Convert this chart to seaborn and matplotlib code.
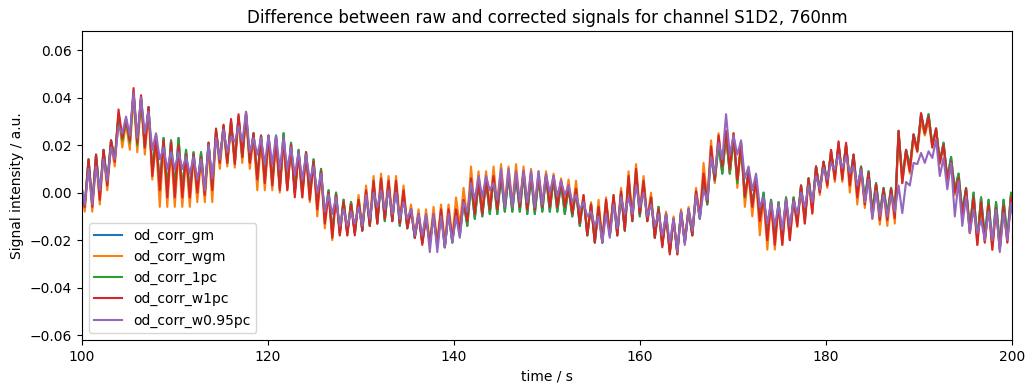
import numpy as np
import matplotlib
matplotlib.use("Agg")
import matplotlib.pyplot as plt
import seaborn as sns

# peak / trough values, in 1e-3 a.u.
# (alternating peak, trough, one cardiac cycle per pair, 100 s -> 200 s)
od_corr_w095pc = [
    4, -5,
    10, -5, 11, 1, 14, 5, 19, 14, 28, 25, 32, 24, 42, 23, 40, 25, 34, 18, 25, 14, 19, 10, 17, 10, 17, 10, 15, 8, 15, 5.5,
    14, 1, 20, 6, 23, 14, 26.5, 17, 23.5, 21.5, 28, 21.5, 34, 17, 23, 16, 23, 12, 24, 12, 24, 10, 23, 10, 19, 7.5, 17, 5.5, 16, 5.5,
    11, 0, 8, -8, -1, -9, -2, -14, -7, -14, -8, -13, -6, -14, -1, -11, 0, -6, 1, -7, 1, -9, 0, -11, -4, -11, -7, -18, -9, -18,
    -9, -25, -9, -25, -10, -23, -9, -21, -10, -19, -4, -8, 4, -3, 7, -2, 7, 1, 4, -3, 10, -6, 10, -6, 9, -4, 9, -4, 9, -6, 9, -5,
    7.6, 0, 7, -1.5, 5, -1, 3, -4, -1, -7, -4, -10, -8, -14, -10, -21, -9, -19, -5, -15, -2, -9, -2, -9, 3, -6, 0, -10, -5, -14, -9, -18,
    -9, -21, -11, -25, -8, -22, -7, -16, -1, -11, 1, -3, 15, 8, 21, 14, 33, 16, 24, 16, 22, 6, 11, 1, 8, -6, -2, -13, -4, -14,
    -5, -15.6, -3, -14, -3.6, -9, 0, -6, 3, -4, 7, 1.4, 10.4, 5.5, 12.5, 9.7, 16, 10.4, 15.3, 8.3, 11, 3, 9.7, -4, 5.5, -11, 0.6, -10, -1, -10, -1, -8,
    3, -8.6, 4.5, 3, 12.5, 12, 16.7, 12.5, 17.4, 14.6, 22.3, 7, 14.6, 1.4, 12.5, -10, 4.8, -14, -1.6, -17, -7.2, -17, -11.4, -20, -8, -20, -7.2, -25, -8.6, -20, -4.4, -15,
]

od_corr_w1pc = [
    2, -6,
    14, -6, 16, -3, 18, 3, 22, 13, 35, 23, 31, 22, 44, 21, 41, 19, 36, 7, 23, 1, 22, -2, 21, -2, 20, -2, 16, -2, 16, 0,
    15, -1, 21, 1, 27, 12.5, 28.6, 12.5, 31, 12, 33, 15, 34, 12.5, 25, 5.5, 24, 4, 24, 3, 23, 1, 23, 1, 20, -2, 17, -2, 17, -3,
    13, -7, 9, -13, 0, -19, -1, -18, -4, -18, -5, -18, -3, -16, 1, -14, 5, -13, 6, -11, 5, -12, 5, -13, 1, -15, -7, -19, -9, -22,
    -10, -22, -9, -22, -7, -23, -7, -20, -7, -16, -3, -12, 6, -9, 5, -9, 6, -7, 7, -7, 8, -6, 8, -6, 8, -6, 9, -7, 8, -7, 7, -6,
    7.6, -6, 7, -6, 5, -6, 3, -9, 1.6, -13, -1, -18, -5, -21, -6, -21, -3, -18, -1, -18, 0.5, -16, 7, -12, 10, -9, 5, -12, -2, -19, -7, -23,
    -9, -26, -11, -26, -8, -21, -7, -18, 0.6, -10, 8, -4, 19.5, 5.5, 24, 11, 26, 10, 25, 5.5, 21, -1.6, 8, -6, 5.5, -12, -2, -20, -4, -22,
    -5, -22, -3, -20, -3, -14, 3, -13, 6, -8.6, 11, 0, 13, 3, 18, 5.5, 21.6, 5.5, 21, 3, 16, -2, 10.4, -5, 8.3, -10, 3.4, -11.5, 1.4, -11.5, 1.5, -10.7,
    26, 4, 18, 9, 24.5, 17.4, 33.5, 25, 32, 19, 27, 12.5, 20, 5.5, 13, 0, 6.2, -10, 1.5, -17, -2, -22, -4, -21, -5, -24, -6.5, -24, -5.5, -21, -2, -16,
]

od_corr_wgm = [
    1, -8,
    12, -8, 14, -5, 16, 1, 20, 11, 32, 19, 29, 18, 40, 17, 38, 16, 33, 5.5, 21, -6, 20, -6, 19, -6, 18, -6, 15, -6, 15, -4,
    14, -4, 19, -4, 25, 10, 27, 11, 29, 10.5, 31, 12.5, 32, 10, 23, 1, 22, 1, 22, 1, 21, 0, 21, 1, 19, 0, 16, -2, 16, -4,
    13, -10, 9, -15, 0, -20, -1, -18, -3, -18, -4, -17, -1, -15, 3, -13, 7, -12, 8, -10, 7, -11, 7, -12, 3, -14, -5, -18, -7, -21,
    -7, -21, -6, -21, -5, -21, -5, -19, -2, -14, 2, -11, 11, -8, 9, -8, 9, -6, 11, -6, 12, -5, 11, -5, 12, -5, 11, -6, 10, -6, 9, -5,
    9, -5, 8, -5, 6, -5, 5.5, -8, 5, -12, -1, -17, -4, -20, -3, -20, -2, -17, -1, -17, 2, -15, 9, -11, 12, -8, 7, -11, 0, -18, -6, -22,
    -8, -25, -10, -26, -7, -21, -6, -17, 2, -10, 12.5, -3, 22, 4, 25, 9, 25, 8, 25, 2, 21, -6, 8, -10, 6, -18, -2, -24, -4, -24,
    -5, -22, -3, -20, -3, -14.5, 3, -13, 6, -9, 11, -1, 13, 2, 18, 4.5, 21, 4.5, 20, 0, 15, -5, 10, -6.5, 8, -11, 3, -13.5, 1, -14, 1, -13,
    25, 4, 17, 8, 23, 17, 30, 24, 30, 19, 26, 12, 20, 5, 13, -1, 6, -10, 1, -17, -2, -22, -4, -21, -5, -24, -6.5, -24, -5.5, -21, -1, -16,
]

od_corr_1pc = [
    3, -5,
    14, -5, 16, -1, 18, 4, 22, 14, 33, 22, 30, 21, 42, 20, 40, 19, 36, 9, 24, 3, 23, 1, 22, 1, 23, 1, 18, 0, 17, 1,
    17, 0, 21, 2, 26, 13, 28, 13, 30, 13, 32, 15, 33, 13, 25, 6, 24, 5, 24, 4, 24, 2, 25, 2, 21, 0, 18, 0, 17, -1,
    14, -5, 10, -11, 1, -17, 0, -17, -3, -17, -4, -17, -3, -16, 0, -14, 4, -13, 5, -12, 4, -12, 4, -14, 0, -15, -7, -19, -9, -21,
    -10, -21, -10, -22, -8, -23, -8, -21, -8, -18, -4, -14, 4, -11, 4, -10, 5, -9, 6, -9, 7, -8, 7, -8, 7, -8, 8, -9, 7, -9, 6, -8,
    7, -8, 6, -8, 4, -9, 2, -10, 1, -14, -2, -18, -5, -21, -6, -21, -4, -18, -2, -18, 0, -16, 6, -12, 9, -10, 4, -12, -2, -19, -6, -22,
    -9, -25, -11, -25, -8, -21, -7, -18, 0, -11, 5, -5, 16, 5, 20, 8, 24, 8, 23, 4, 20, -2, 9, -5, 6, -10, 0, -17, -3, -19,
    -4, -19, -2, -17, -2, -12, 3, -11, 6, -6, 11, 1, 13, 4, 17, 7, 20, 7, 20, 5, 16, 0, 11, -3, 9, -8, 4, -9, 2, -9, 2, -9,
    26, 6, 18, 11, 24.5, 18, 33, 25, 33, 20, 27, 13, 21, 6, 15, 1, 8, -8, 2, -15, 0, -20, -2, -19, -3, -22, -4, -22, -3, -19, 0, -14,
]

# global-mean correction is hidden under the 1pc trace in the chart
od_corr_gm = list(od_corr_1pc)

series_names = ["od_corr_gm", "od_corr_wgm", "od_corr_1pc", "od_corr_w1pc", "od_corr_w0.95pc"]
series_vals = [od_corr_gm, od_corr_wgm, od_corr_1pc, od_corr_w1pc, od_corr_w095pc]

fig = plt.figure(figsize=(10.35, 3.91), dpi=100)
ax = fig.add_axes([0.0792, 0.1304, 0.8986, 0.7903])

for name, vals in zip(series_names, series_vals):
    vals = np.asarray(vals) * 1e-3
    t = np.linspace(99.9, 200.3, len(vals))  # sample times
    sns.lineplot(x=t, y=vals, label=name, ax=ax, linewidth=1.5)

ax.set_xlim(100, 200)
ax.set_ylim(-0.062, 0.068)
ax.set_xlabel("time / s")
ax.set_ylabel("Signal intensity / a.u.")
ax.set_title("Difference between raw and corrected signals for channel S1D2, 760nm")
ax.legend(loc="lower left")

fig.savefig("out.png", dpi=100)
